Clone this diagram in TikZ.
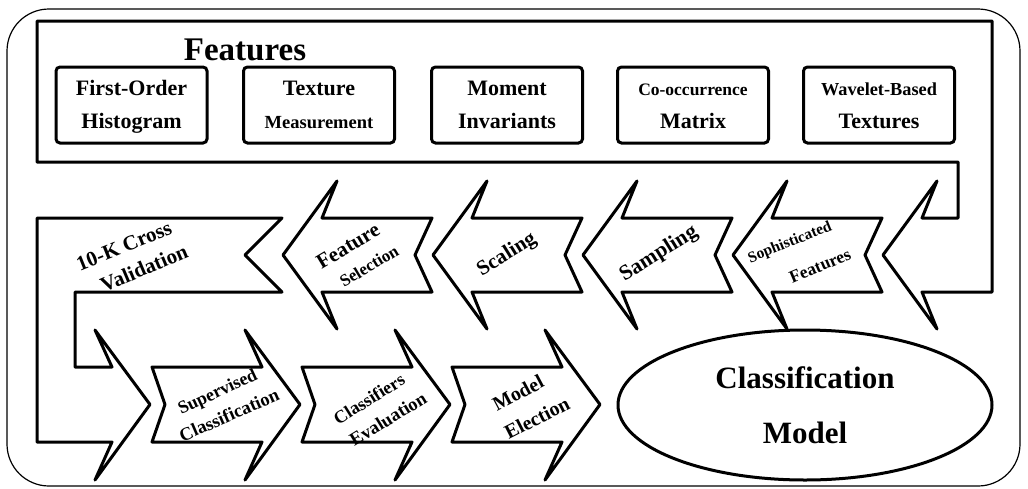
\documentclass[tikz,border=0pt]{standalone}
\usepackage{fontspec}
\setmainfont{Liberation Serif}
\usetikzlibrary{shapes.geometric}
\begin{document}
\begin{tikzpicture}[x=1pt,y=-1pt,
  band/.style={draw, line width=3pt, line join=round},
  fbox/.style={draw, line width=3pt, rounded corners=4pt, minimum width=151pt, minimum height=76pt, inner sep=0pt, align=center, font=\fontsize{22}{33}\selectfont\bfseries},
  lbl/.style={inner sep=0pt},
  outerframe/.style={draw, line width=1.2pt, rounded corners=42pt}
]
\useasboundingbox (0,0) rectangle (1028,488);
% outer frame
\draw[outerframe] (7,9) rectangle (1020,486);
% features band with last arrow
\draw[band] (37,21) -- (992,21) -- (992,292) -- (922,292) -- (937,329) -- (883,255) -- (937,181) -- (922,218) -- (958,218) -- (958,162) -- (37,162) -- cycle;
% cross validation U piece
\draw[band] (37,218) -- (282,218) -- (245,255) -- (282,292) -- (75,292) -- (75,367) -- (112,367) -- (95,330) -- (150,404.5) -- (95,480) -- (112,442) -- (37,442) -- cycle;
% row 2 arrows (pointing left)
\foreach \t in {283,433,583,733}
  \draw[band] (\t,255) -- (\t+54,181) -- (\t+39,218) -- (\t+149,218) -- (\t+132,255) -- (\t+149,292) -- (\t+39,292) -- (\t+54,329) -- cycle;
% row 3 arrows (pointing right)
\foreach \t in {152,302,452}
  \draw[band] (\t,367) -- (\t+110,367) -- (\t+93,330) -- (\t+148,404.5) -- (\t+93,480) -- (\t+110,442) -- (\t,442) -- (\t+13,404.5) -- cycle;
% title
\node[anchor=base, inner sep=0pt, font=\fontsize{33}{33}\selectfont\bfseries] (title) at (245,60) {Features};
% feature boxes
\node[fbox] (b1) at (131.5,105) {First-Order\strut\\Histogram\strut};
\node[fbox] (b2) at (319,105) {Texture\strut\\{\fontsize{18.5}{33}\selectfont Measurement\strut}};
\node[fbox] (b3) at (507,105) {Moment\strut\\Invariants\strut};
\node[fbox] (b4) at (693,105) {{\fontsize{17.5}{33}\selectfont Co-occurrence\strut}\\Matrix\strut};
\node[fbox] (b5) at (879,105) {{\fontsize{18.3}{33}\selectfont Wavelet-Based\strut}\\Textures\strut};
% classification model
\node[draw, ellipse, line width=3pt, minimum width=374pt, minimum height=150pt, inner sep=0pt, align=center, font=\fontsize{31}{55}\selectfont\bfseries] (cm) at (805,405) {Classification\\Model};
% arrow labels
\node[lbl, rotate=22, font=\fontsize{21}{25}\selectfont\bfseries] (cv1) at (124,246) {10-K Cross};
\node[lbl, rotate=23, font=\fontsize{21}{25}\selectfont\bfseries] (cv2) at (144,268) {Validation};
\node[lbl, rotate=31, font=\fontsize{21}{25}\selectfont\bfseries] (fs1) at (348,246) {Feature};
\node[lbl, rotate=31, font=\fontsize{17}{25}\selectfont\bfseries] (fs2) at (369,266) {Selection};
\node[lbl, rotate=32, font=\fontsize{21}{25}\selectfont\bfseries] (sc) at (507,255) {Scaling};
\node[lbl, rotate=32, font=\fontsize{21.5}{25}\selectfont\bfseries] (sa) at (659,254) {Sampling};
\node[lbl, rotate=22, font=\fontsize{15.5}{24}\selectfont\bfseries] (so1) at (790,243) {Sophisticated};
\node[lbl, rotate=23, font=\fontsize{17.5}{24}\selectfont\bfseries] (so2) at (820,266) {Features};
\node[lbl, rotate=25, font=\fontsize{18}{22}\selectfont\bfseries] (su1) at (218,393) {Supervised};
\node[lbl, rotate=23.5, font=\fontsize{18.5}{22}\selectfont\bfseries] (su2) at (229,415) {Classification};
\node[lbl, rotate=32, font=\fontsize{18}{24}\selectfont\bfseries] (ce1) at (369,399) {Classifiers};
\node[lbl, rotate=31.5, font=\fontsize{18.5}{24}\selectfont\bfseries] (ce2) at (388,419) {Evaluation};
\node[lbl, rotate=28, font=\fontsize{20}{24}\selectfont\bfseries] (me1) at (518,393) {Model};
\node[lbl, rotate=27, font=\fontsize{20}{24}\selectfont\bfseries] (me2) at (537,418) {Election};
\end{tikzpicture}
\end{document}
